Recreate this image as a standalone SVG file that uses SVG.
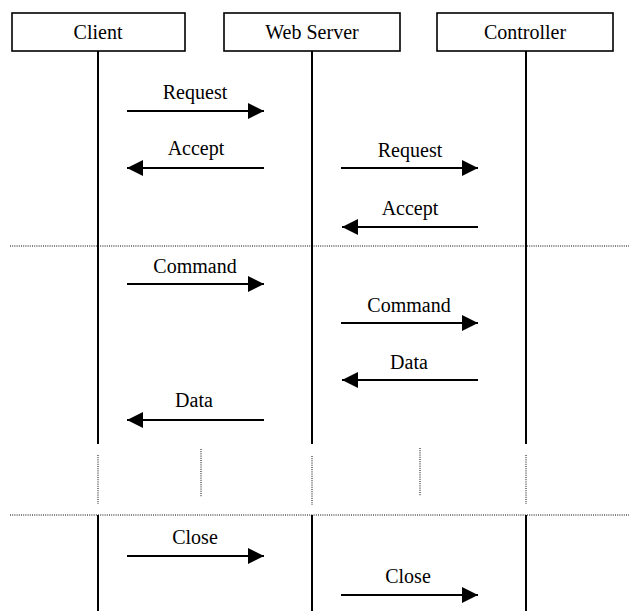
<svg xmlns="http://www.w3.org/2000/svg" width="629" height="611" viewBox="0 0 629 611">
<style>
.box{fill:#fff;stroke:#000;stroke-width:1.6}
.t{font-family:"Liberation Serif","Times New Roman",serif;font-size:20px;fill:#000;text-anchor:middle}
.life{stroke:#000;stroke-width:2;fill:none}
.dot{stroke:#000;stroke-width:1;stroke-dasharray:1 1.2;fill:none}
.msg{stroke:#000;stroke-width:2;fill:none;marker-end:url(#ah)}
</style>
<defs>
<marker id="ah" markerUnits="userSpaceOnUse" viewBox="0 0 16 16" refX="16" refY="8" markerWidth="16" markerHeight="16" orient="auto">
<path d="M0,0 L16,8 L0,16 Z" fill="#000"/>
</marker>
</defs>
<rect width="629" height="611" fill="#fff"/>
<g id="client">
<rect class="box" x="12" y="13" width="173" height="38"/>
<text class="t" x="98" y="39">Client</text>
</g>
<g id="webserver">
<rect class="box" x="224" y="13" width="176" height="38"/>
<text class="t" x="312" y="39">Web Server</text>
</g>
<g id="controller">
<rect class="box" x="437" y="13" width="176" height="38"/>
<text class="t" x="525" y="39">Controller</text>
</g>
<g id="lifelines">
<path class="life" d="M98,51 V444 M312,51 V444 M526,51 V444"/>
<path class="life" d="M98,515 V611 M312,515 V611 M526,515 V611"/>
<path class="dot" d="M98,455 V504 M312,456 V505 M526,455 V504 M201,449 V497 M420,448 V496"/>
<path class="dot" d="M10,246 H629 M10,515 H629"/>
</g>
<g id="connectors">
<path class="msg" d="M127,111 H264"/>
<text class="t" x="195" y="99">Request</text>
<path class="msg" d="M264,168 H127"/>
<text class="t" x="196" y="155">Accept</text>
<path class="msg" d="M341,168 H478"/>
<text class="t" x="410" y="157">Request</text>
<path class="msg" d="M478,227 H342"/>
<text class="t" x="410" y="215">Accept</text>
<path class="msg" d="M127,284 H264"/>
<text class="t" x="195" y="273">Command</text>
<path class="msg" d="M341,323 H478"/>
<text class="t" x="409" y="312">Command</text>
<path class="msg" d="M478,380 H342"/>
<text class="t" x="409" y="369">Data</text>
<path class="msg" d="M264,420 H127"/>
<text class="t" x="194" y="407">Data</text>
<path class="msg" d="M127,556 H264"/>
<text class="t" x="195" y="544">Close</text>
<path class="msg" d="M341,595 H478"/>
<text class="t" x="408" y="583">Close</text>
</g>
</svg>
